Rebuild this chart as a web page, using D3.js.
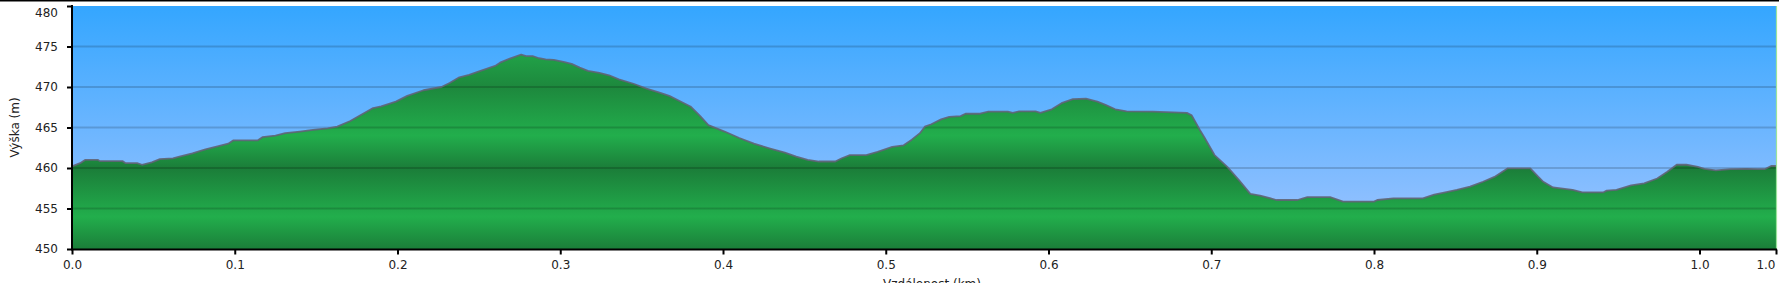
<!DOCTYPE html>
<html>
<head>
<meta charset="utf-8">
<script src="https://cdn.jsdelivr.net/npm/d3@7"></script>
<style>
  html, body { margin: 0; padding: 0; background: #ffffff; }
  svg { display: block; }
  text { font-family: "DejaVu Sans", Verdana, sans-serif; }
</style>
</head>
<body>
<svg id="chart" width="1779" height="283"></svg>
<script>
// ---- data (km, m) ----
const distKm = [0.000,0.005,0.008,0.016,0.017,0.031,0.033,0.040,0.043,0.049,0.054,0.062,0.066,0.074,0.082,0.090,0.096,0.099,0.114,0.117,0.125,0.131,0.140,0.148,0.157,0.163,0.171,0.178,0.185,0.190,0.199,0.206,0.216,0.227,0.232,0.238,0.244,0.251,0.260,0.263,0.269,0.276,0.279,0.283,0.287,0.291,0.296,0.302,0.307,0.312,0.317,0.324,0.330,0.336,0.345,0.353,0.361,0.367,0.373,0.380,0.386,0.391,0.401,0.410,0.419,0.429,0.438,0.445,0.452,0.459,0.469,0.473,0.478,0.488,0.495,0.504,0.511,0.516,0.521,0.524,0.528,0.534,0.539,0.546,0.549,0.558,0.563,0.575,0.578,0.582,0.592,0.595,0.602,0.608,0.615,0.623,0.630,0.635,0.641,0.648,0.664,0.685,0.688,0.693,0.696,0.702,0.710,0.717,0.724,0.730,0.740,0.753,0.759,0.773,0.781,0.800,0.802,0.812,0.830,0.837,0.843,0.851,0.859,0.867,0.874,0.882,0.896,0.901,0.904,0.910,0.916,0.922,0.928,0.941,0.943,0.949,0.958,0.966,0.974,0.980,0.986,0.992,0.999,1.003,1.010,1.019,1.029,1.036,1.040,1.044,1.047];
const elevM = [460.2,460.6,461.0,461.0,460.85,460.85,460.6,460.6,460.4,460.7,461.1,461.2,461.4,461.8,462.3,462.7,463.0,463.4,463.4,463.8,464.0,464.3,464.5,464.7,464.9,465.1,465.8,466.6,467.4,467.6,468.2,468.9,469.6,470.0,470.5,471.2,471.5,472.0,472.6,473.0,473.5,474.0,473.8,473.8,473.55,473.4,473.35,473.1,472.85,472.4,472.0,471.75,471.45,470.95,470.4,469.8,469.3,468.9,468.3,467.6,466.4,465.3,464.5,463.7,463.0,462.4,461.9,461.4,461.0,460.8,460.8,461.2,461.6,461.6,462.0,462.6,462.8,463.5,464.3,465.1,465.4,466.0,466.3,466.4,466.7,466.7,466.95,466.95,466.8,467.0,467.0,466.8,467.25,468.0,468.5,468.55,468.2,467.8,467.25,467.0,466.95,466.8,466.5,464.7,463.7,461.6,460.1,458.5,456.8,456.6,456.05,456.05,456.4,456.4,455.85,455.85,456.05,456.25,456.25,456.7,456.95,457.3,457.7,458.3,458.9,459.95,459.95,458.9,458.3,457.6,457.45,457.3,457.0,457.0,457.2,457.3,457.85,458.1,458.7,459.5,460.4,460.4,460.15,459.9,459.7,459.85,459.9,459.85,459.85,460.25,460.25];
const yTicks = [450, 455, 460, 465, 470, 475, 480];
const gridValues = [455, 460, 465, 470, 475];
const xTickValues = [0, 0.1, 0.2, 0.3, 0.4, 0.5, 0.6, 0.7, 0.8, 0.9, 1.0, 1.047];
const xTickLabels = ["0.0","0.1","0.2","0.3","0.4","0.5","0.6","0.7","0.8","0.9","1.0","1.0"];
const yTitle = "Výška (m)";
const xTitle = "Vzdálenost (km)";

const points = distKm.map((d, i) => ({ d, e: elevM[i] }));

const svg = d3.select("#chart");
const L = 72, R = 1776, T = 6, B = 249;

const x = d3.scaleLinear().domain([0, 1.047]).range([L, R]);
const y = d3.scaleLinear().domain([450, 480]).range([B, T]);

const defs = svg.append("defs");
const sky = defs.append("linearGradient").attr("id", "sky")
  .attr("gradientUnits", "userSpaceOnUse").attr("x1", 0).attr("x2", 0)
  .attr("y1", y(480)).attr("y2", y(450));
sky.append("stop").attr("offset", 0).attr("stop-color", "#34a6ff");
sky.append("stop").attr("offset", 1).attr("stop-color", "#a2c5ff");

const grass = defs.append("linearGradient").attr("id", "grass")
  .attr("gradientUnits", "userSpaceOnUse").attr("x1", 0).attr("x2", 0)
  .attr("y1", y(480)).attr("y2", y(450));
const gStops = [
  [480, "#1f9442"], [475, "#22a84a"], [470, "#1d883d"], [464, "#22ae4c"],
  [460, "#1b7d39"], [454, "#22ae4c"], [450, "#1b7e39"]
];
gStops.forEach(([v, c]) => grass.append("stop")
  .attr("offset", (y(v) - y(480)) / (y(450) - y(480))).attr("stop-color", c));

// top border
svg.append("rect").attr("x", 0).attr("y", 0).attr("width", 1779).attr("height", 1.5).attr("fill", "#000");

// plot background
svg.append("rect").attr("x", L).attr("y", T).attr("width", R - L).attr("height", B - T)
  .attr("fill", "url(#sky)");

// area
const area = d3.area().x(p => x(p.d)).y0(y(450)).y1(p => y(p.e));
svg.append("path").datum(points).attr("d", area).attr("fill", "url(#grass)");

// grid
svg.append("g").selectAll("line").data(gridValues).join("line")
  .attr("x1", L).attr("x2", R).attr("y1", v => y(v)).attr("y2", v => y(v))
  .attr("stroke", "#000").attr("stroke-opacity", 0.16).attr("stroke-width", 2);

// profile outline
const line = d3.line().x(p => x(p.d)).y(p => y(p.e));
svg.append("path").datum(points).attr("d", line).attr("fill", "none")
  .attr("stroke", "#5f6475").attr("stroke-opacity", 0.9).attr("stroke-width", 1.8)
  .attr("stroke-linejoin", "round");

// right border
svg.append("line").attr("x1", R + 0.5).attr("x2", R + 0.5).attr("y1", T).attr("y2", B)
  .attr("stroke", "#9be39b").attr("stroke-width", 1.2);

// axes
const yAxis = d3.axisLeft(y).tickValues(yTicks).tickSize(5).tickSizeOuter(0).tickPadding(9)
  .tickFormat(d3.format("d"));
const gy = svg.append("g").attr("transform", `translate(${L},0)`).call(yAxis);
gy.select(".domain").attr("stroke", "#000").attr("stroke-width", 2)
  .attr("d", `M0,${T - 1}V${B + 1}`);
gy.selectAll(".tick line").attr("stroke", "#000").attr("stroke-width", 2);
gy.selectAll(".tick text").attr("font-size", 12).attr("fill", "#222")
  .attr("font-family", "DejaVu Sans, Verdana, sans-serif")
  .attr("dy", v => v === 480 ? "0.85em" : "0.32em");

const xAxis = d3.axisBottom(x).tickValues(xTickValues).tickSize(5).tickSizeOuter(0).tickPadding(5.5)
  .tickFormat((d, i) => xTickLabels[i]);
const gx = svg.append("g").attr("transform", `translate(0,${B + 0.5})`).call(xAxis);
gx.select(".domain").attr("stroke", "#000").attr("stroke-width", 2)
  .attr("d", `M${L - 1},0H${R + 1}`);
gx.selectAll(".tick line").attr("stroke", "#000").attr("stroke-width", 2);
gx.selectAll(".tick text").attr("font-size", 12).attr("fill", "#222")
  .attr("font-family", "DejaVu Sans, Verdana, sans-serif");
// keep the end label inside the picture
gx.selectAll(".tick text").filter((d, i) => i === xTickValues.length - 1)
  .attr("text-anchor", "end").attr("x", -1);

// titles
svg.append("text").attr("transform", `translate(19,${(T + B) / 2}) rotate(-90)`)
  .attr("text-anchor", "middle").attr("font-size", 12).attr("fill", "#222").text(yTitle);
svg.append("text").attr("x", 932).attr("y", 288)
  .attr("text-anchor", "middle").attr("font-size", 12).attr("fill", "#222").text(xTitle);
</script>
</body>
</html>
